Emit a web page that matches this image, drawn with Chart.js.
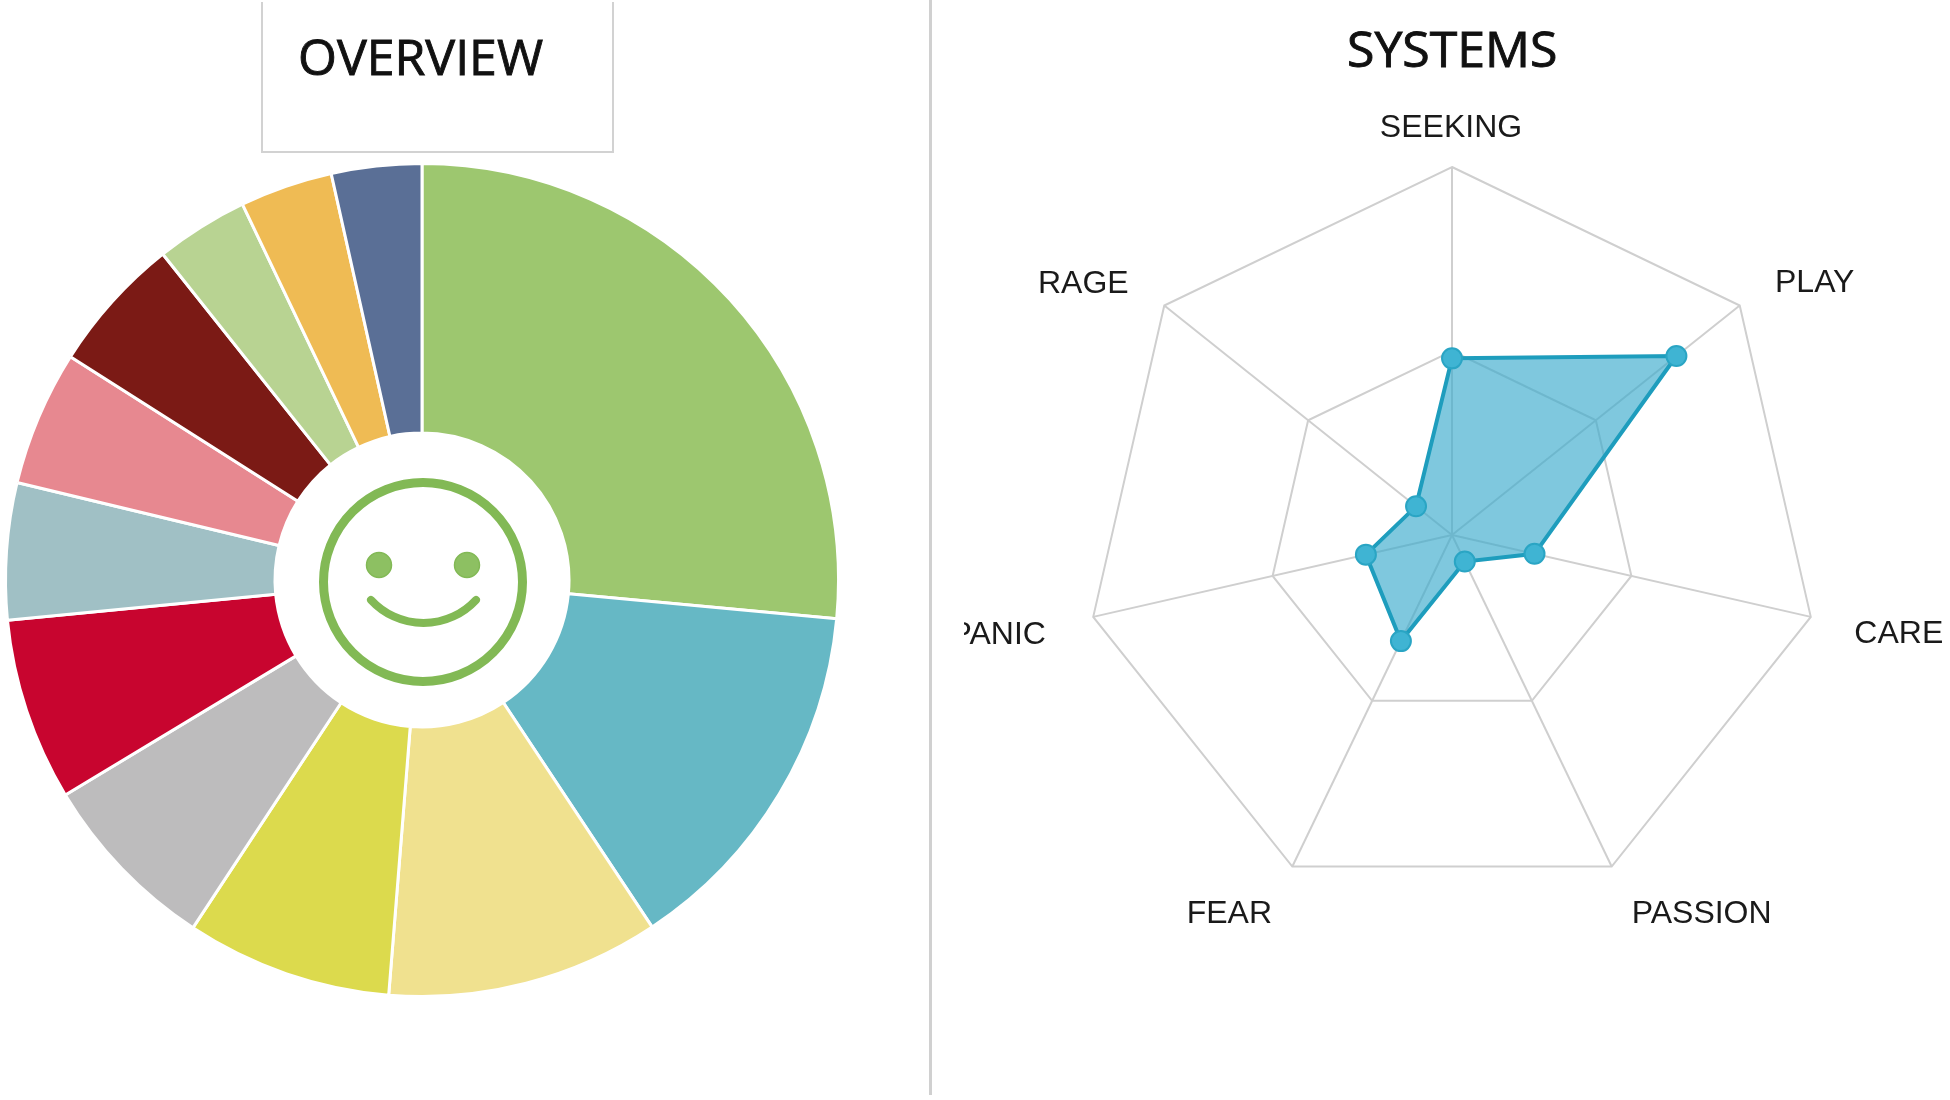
<!DOCTYPE html>
<html lang="en">
<head>
  <meta charset="UTF-8">
  <title>Overview and Systems</title>
  <script src="https://cdn.jsdelivr.net/npm/chart.js"></script>
  <style>
    body {
      margin: 0;
      width: 1950px;
      height: 1100px;
      background: #fff;
      overflow: hidden;
      position: relative;
    }

    .title {
      position: absolute;
      font-family: "Open Sans", sans-serif;
      font-size: 50px;
      line-height: 1;
      color: #111;
      -webkit-text-stroke: 0.9px #111;
      white-space: nowrap;
    }

    #overviewBox {
      position: absolute;
      left: 261px;
      top: 2px;
      width: 349px;
      height: 149px;
      border: 2px solid #d2d2d2;
      border-top: none;
    }

    #divider {
      position: absolute;
      left: 929px;
      top: 0;
      width: 3px;
      height: 1095px;
      background: #d0d0d0;
    }

    #overviewChart {
      position: absolute;
      left: 0;
      top: 158px;
    }

    /* PANIC is cut off on its left side in the original */
    #radarClip {
      position: absolute;
      left: 964px;
      top: 0;
      width: 986px;
      height: 1070px;
      overflow: hidden;
    }

    #systemsChart {
      position: absolute;
      left: -12px;
      top: 0;
    }

    #smiley {
      position: absolute;
      left: 0;
      top: 0;
    }
  </style>
</head>
<body>
  <div id="overviewBox"></div>
  <div class="title" style="left:298px; top:31px;">OVERVIEW</div>
  <div class="title" style="left:1347px; top:23px;">SYSTEMS</div>
  <div id="divider"></div>

  <canvas id="overviewChart" width="844" height="844"></canvas>

  <svg id="smiley" width="900" height="800" fill="none">
    <circle cx="423" cy="582" r="99.5" stroke="#82b955" stroke-width="9"/>
    <circle cx="379" cy="565" r="12.5" fill="#8dc062" stroke="#82b955" stroke-width="1.5"/>
    <circle cx="467" cy="565" r="12.5" fill="#8dc062" stroke="#82b955" stroke-width="1.5"/>
    <path d="M371 600 A71.4 71.4 0 0 0 476 600" stroke="#82b955" stroke-width="8" stroke-linecap="round"/>
  </svg>

  <div id="radarClip">
    <canvas id="systemsChart" width="1000" height="1070"></canvas>
  </div>

  <script>
    // Overview slices, clockwise from the top, share in percent
    const overviewValues = [26.5, 14.2, 10.6, 8, 7.1, 7.1, 5.3, 5.25, 5.3, 3.6, 3.6, 3.5];
    const overviewColors = ['#9dc76f', '#66b8c5', '#f0e18f', '#dcda4d', '#bdbcbd', '#c8052f',
      '#a0c0c5', '#e78890', '#7b1a15', '#b8d392', '#efbb54', '#5a6f96'];

    // Systems radar
    const systemsLabels = ['SEEKING', 'PLAY', 'CARE', 'PASSION', 'FEAR', 'PANIC', 'RAGE'];
    const systemsValues = [48, 78, 23, 8, 32, 24, 12.5];
    const systemsMax = 100;
    const systemsStep = 50;

    // Where each label centre sits relative to its outer vertex
    const labelOffsets = [[-1, -39], [75, -22], [88, 17], [90, 48], [-63, 48], [-95, 18], [-81, -21]];

    new Chart(document.getElementById('overviewChart'), {
      type: 'doughnut',
      data: {
        labels: overviewValues.map((v, i) => 'Slice ' + (i + 1)),
        datasets: [{
          data: overviewValues,
          backgroundColor: overviewColors,
          borderColor: '#fff',
          borderWidth: 3
        }]
      },
      options: {
        responsive: false,
        animation: false,
        cutout: '35.3%',
        layout: { padding: 4 },
        plugins: { legend: { display: false }, tooltip: { enabled: false } }
      }
    });

    // Labels sit off the spokes in the original, so they are placed from the scale by hand
    const offsetLabels = {
      id: 'offsetLabels',
      afterDraw(chart) {
        const scale = chart.scales.r;
        const ctx = chart.ctx;
        ctx.save();
        ctx.font = '32px "Liberation Sans", Arial, sans-serif';
        ctx.fillStyle = '#1a1a1a';
        ctx.textAlign = 'center';
        ctx.textBaseline = 'middle';
        systemsLabels.forEach((label, i) => {
          const p = scale.getPointPositionForValue(i, systemsMax);
          ctx.fillText(label, p.x + labelOffsets[i][0], p.y + labelOffsets[i][1]);
        });
        ctx.restore();
      }
    };

    new Chart(document.getElementById('systemsChart'), {
      type: 'radar',
      data: {
        labels: systemsLabels,
        datasets: [{
          data: systemsValues,
          fill: true,
          backgroundColor: 'rgba(58, 170, 205, 0.65)',
          borderColor: '#1e9dbd',
          borderWidth: 4,
          pointRadius: 10,
          pointBackgroundColor: '#3fb4d3',
          pointBorderColor: '#2aa5c4',
          pointBorderWidth: 2
        }]
      },
      options: {
        responsive: false,
        animation: false,
        layout: { padding: { left: 132, right: 132, top: 167, bottom: 167 } },
        scales: {
          r: {
            min: 0,
            max: systemsMax,
            ticks: { display: false, stepSize: systemsStep },
            pointLabels: { display: false },
            grid: { color: '#cfcfcf', lineWidth: 2 },
            angleLines: { color: '#cfcfcf', lineWidth: 2 }
          }
        },
        plugins: { legend: { display: false }, tooltip: { enabled: false } }
      },
      plugins: [offsetLabels]
    });
  </script>
</body>
</html>
